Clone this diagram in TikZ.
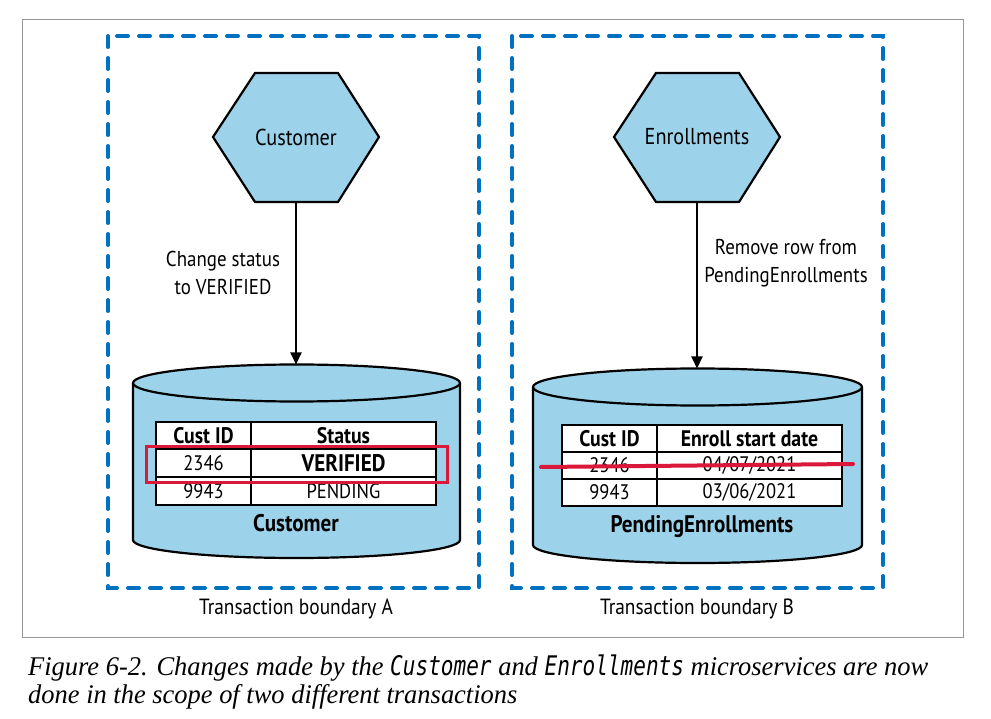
\documentclass[tikz,border=0pt]{standalone}
\usepackage{fontspec}
\setmainfont{Liberation Serif}
\newfontfamily\diagfont{PT Sans}[FakeStretch=0.88]
\newfontfamily\capserif{Liberation Serif}[FakeStretch=0.98]
\newfontfamily\capmono{DejaVu Sans Mono}[FakeStretch=0.78]
\usetikzlibrary{arrows.meta}
\definecolor{boxblue}{RGB}{0,112,192}
\definecolor{lightblue}{RGB}{157,211,234}
\definecolor{redmark}{RGB}{218,24,58}
\definecolor{framegray}{RGB}{150,150,150}
\tikzset{
  boundary/.style={draw=boxblue, line width=4pt, dash pattern=on 11pt off 11pt, line cap=round},
  hexshape/.style={draw=black, fill=lightblue, line width=2.2pt, line join=miter},
  cylshape/.style={draw=black, fill=lightblue, line width=2.2pt},
  cell/.style={draw=black, fill=white, line width=1.8pt, inner sep=0pt, font=\diagfont\fontsize{21}{24}\selectfont, anchor=center},
  hdr/.style={font=\diagfont\bfseries\fontsize{22.5}{24}\selectfont},
  hextext/.style={font=\diagfont\fontsize{23}{26}\selectfont},
  dbname/.style={font=\diagfont\bfseries\fontsize{24}{26}\selectfont},
  lbl/.style={font=\diagfont\fontsize{21.5}{28}\selectfont, align=center},
  tblbl/.style={font=\diagfont\fontsize{22}{26}\selectfont},
  flow/.style={draw=black, line width=2pt, -{Triangle[length=12pt,width=11pt]}},
  redbox/.style={draw=redmark, line width=3pt},
  capline/.style={font=\capserif\itshape\fontsize{27}{29}\selectfont, anchor=base west, inner sep=0pt},
}
\begin{document}
\begin{tikzpicture}[x=1pt,y=-1pt]
\useasboundingbox (0,0) rectangle (991,719);
\fill[white] (0,0) rectangle (991,719);
\draw[framegray, line width=1pt] (22,20) rectangle (963,637);

% boundaries
\draw[boundary] (108,36) rectangle (479,588);
\draw[boundary] (512,36) rectangle (883,588);
\node[tblbl] (tbA) at (296,609) {Transaction boundary A};
\node[tblbl] (tbB) at (697,609) {Transaction boundary B};

% hexagons
\draw[hexshape] (213,137) -- (255,73) -- (338,73) -- (379,137) -- (338,202) -- (255,202) -- cycle;
\node[hextext] (custsvc) at (296,137) {Customer};
\coordinate (hexAb) at (296,202);
\draw[hexshape] (614,137) -- (656,73) -- (739,73) -- (780,137) -- (739,202) -- (656,202) -- cycle;
\node[hextext] (enrsvc) at (697,137) {Enrollments};
\coordinate (hexBb) at (697,202);

% cylinders
\filldraw[cylshape] (133,383) -- (133,540) arc[start angle=180,end angle=0,x radius=163.5,y radius=18] -- (460,383);
\filldraw[cylshape] (296.5,383) ellipse[x radius=163.5,y radius=18.5];
\coordinate (cylAt) at (296,364.5);
\filldraw[cylshape] (533,387) -- (533,545) arc[start angle=180,end angle=0,x radius=164.5,y radius=18] -- (862,387);
\filldraw[cylshape] (697.5,387) ellipse[x radius=164.5,y radius=18.5];
\coordinate (cylBt) at (697,368.5);

% arrows
\draw[flow] (hexAb) -- (cylAt);
\draw[flow] (hexBb) -- (cylBt);
\node[lbl] (chg) at (223,273) {Change status\\to VERIFIED};
\node[lbl] (rem) at (786,263) {Remove row from\\PendingEnrollments};

% table A
\node[cell, hdr, minimum width=95pt, minimum height=27pt] (a11) at (203.5,435.5) {Cust ID};
\node[cell, hdr, minimum width=185pt, minimum height=27pt] (a12) at (343.5,435.5) {Status};
\node[cell, minimum width=95pt, minimum height=28pt] (a21) at (203.5,463) {2346};
\node[cell, dbname, minimum width=185pt, minimum height=28pt] (a22) at (343.5,463) {VERIFIED};
\node[cell, minimum width=95pt, minimum height=28pt] (a31) at (203.5,491) {9943};
\node[cell, minimum width=185pt, minimum height=28pt] (a32) at (343.5,491) {PENDING};
\node[dbname] (custdb) at (296,523) {Customer};
\draw[redbox] (146,446) rectangle (447,482);

% table B
\node[cell, hdr, minimum width=95pt, minimum height=27pt] (b11) at (609.5,438.5) {Cust ID};
\node[cell, hdr, minimum width=185pt, minimum height=27pt] (b12) at (749.5,438.5) {Enroll start date};
\node[cell, minimum width=95pt, minimum height=27pt] (b21) at (609.5,465.5) {2346};
\node[cell, minimum width=185pt, minimum height=27pt] (b22) at (749.5,465.5) {04/07/2021};
\node[cell, minimum width=95pt, minimum height=27pt] (b31) at (609.5,492.5) {9943};
\node[cell, minimum width=185pt, minimum height=27pt] (b32) at (749.5,492.5) {03/06/2021};
\node[dbname] (penddb) at (702,527) {PendingEnrollments};
\coordinate (strikeL) at (541,467);
\coordinate (strikeR) at (853,464);
\draw[redmark, line width=4pt, line cap=round] (strikeL) -- (strikeR);

% caption
\node[capline] (cap1) at (28,675) {Figure 6-2. Changes made by the {\capmono\itshape Customer} and {\capmono\itshape Enrollments} microservices are now};
\node[capline] (cap2) at (28,703) {done in the scope of two different transactions};
\end{tikzpicture}
\end{document}
